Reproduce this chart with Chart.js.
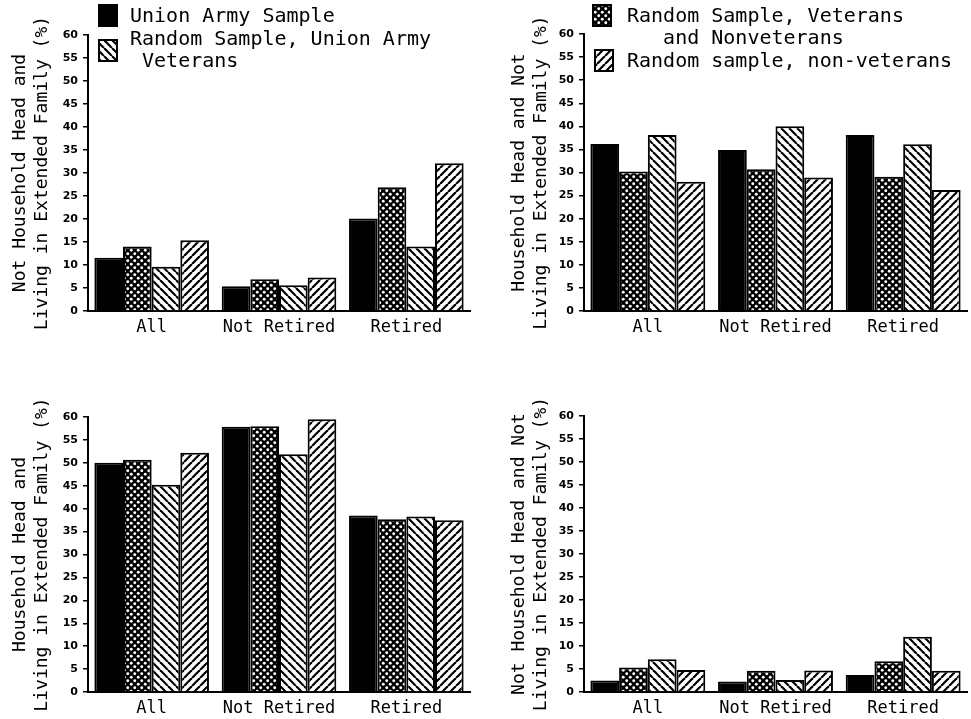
<!DOCTYPE html>
<html>
<head>
<meta charset="utf-8">
<script src="https://cdn.jsdelivr.net/npm/chart.js@4.4.1/dist/chart.umd.min.js"></script>
<style>
  html, body { margin: 0; padding: 0; background: #fff; }
  #wrap { position: relative; width: 971px; height: 719px; }
  canvas { position: absolute; }
</style>
</head>
<body>
<div id="wrap">
  <canvas id="panelA" width="485" height="350" style="left:0;top:0"></canvas>
  <canvas id="panelB" width="486" height="350" style="left:485px;top:0"></canvas>
  <canvas id="panelC" width="485" height="369" style="left:0;top:350px"></canvas>
  <canvas id="panelD" width="486" height="369" style="left:485px;top:350px"></canvas>
</div>
<script>
// Categories on the x axis
const categories = ['All', 'Not Retired', 'Retired'];

// Series names (bar order: solid, cross-hatch, back diagonal, forward diagonal)
const seriesNames = [
  'Union Army Sample',
  'Random Sample, Veterans and Nonveterans',
  'Random Sample, Union Army Veterans',
  'Random sample, non-veterans'
];

// y axis range (%)
const yMin = 0;
const yMax = 60;
const yStep = 5;

// Panel A: not household head, living in extended family
const panelA_unionArmy = [11.6, 5.4, 20.1];
const panelA_randomAll = [14.0, 6.9, 26.9];
const panelA_randomVets = [9.6, 5.6, 14.0];
const panelA_randomNonVets = [15.4, 7.3, 32.1];

// Panel B: household head, not living in extended family
const panelB_unionArmy = [36.2, 34.9, 38.1];
const panelB_randomAll = [30.2, 30.7, 29.1];
const panelB_randomVets = [38.1, 40.0, 36.1];
const panelB_randomNonVets = [28.0, 28.9, 26.2];

// Panel C: household head and living in extended family
const panelC_unionArmy = [50.0, 57.9, 38.5];
const panelC_randomAll = [50.7, 58.0, 37.7];
const panelC_randomVets = [45.2, 51.9, 38.3];
const panelC_randomNonVets = [52.2, 59.5, 37.5];

// Panel D: not household head and not living in extended family
const panelD_unionArmy = [2.5, 2.3, 3.7];
const panelD_randomAll = [5.3, 4.6, 6.7];
const panelD_randomVets = [7.1, 2.6, 12.0];
const panelD_randomNonVets = [4.8, 4.7, 4.6];

const MONO = '"DejaVu Sans Mono", monospace';

// build the hatch fills
function makePattern(kind) {
  const s = kind === 'cross' ? 7 : 8;
  const c = document.createElement('canvas');
  c.width = s; c.height = s;
  const g = c.getContext('2d');
  if (kind === 'cross') {
    g.fillStyle = '#000';
    g.fillRect(0, 0, s, s);
    g.fillStyle = '#fff';
    [[1.75, 1.75], [5.25, 5.25]].forEach(([x, y]) => {
      g.beginPath();
      g.arc(x, y, 1.45, 0, Math.PI * 2);
      g.fill();
    });
  } else {
    g.fillStyle = '#fff';
    g.fillRect(0, 0, s, s);
    g.strokeStyle = '#000';
    g.lineWidth = 2.2;
    for (const x0 of [-s, 0, s]) {
      g.beginPath();
      if (kind === 'back') { g.moveTo(x0, 0); g.lineTo(x0 + s, s); }
      else { g.moveTo(x0, s); g.lineTo(x0 + s, 0); }
      g.stroke();
    }
  }
  return g.createPattern(c, 'repeat');
}

const fills = ['#000', makePattern('cross'), makePattern('back'), makePattern('fwd')];

// legend drawn into the empty space above the top panels
const legendPlugin = {
  id: 'boxLegend',
  afterDraw(chart, args, opts) {
    if (!opts.items) return;
    const ctx = chart.ctx;
    ctx.save();
    ctx.font = '20px ' + MONO;
    ctx.textBaseline = 'middle';
    opts.items.forEach(it => {
      ctx.fillStyle = fills[it.series];
      ctx.fillRect(it.x, it.y, 18, 21);
      ctx.strokeStyle = '#000';
      ctx.lineWidth = 2;
      ctx.strokeRect(it.x, it.y, 18, 21);
      ctx.fillStyle = '#000';
      it.lines.forEach((t, i) => ctx.fillText(t, it.tx, it.ty + i * 22));
    });
    ctx.restore();
  }
};

function makeChart(id, values, title, layout, legendItems) {
  const datasets = values.map((vals, i) => ({
    label: seriesNames[i],
    data: vals,
    backgroundColor: fills[i],
    borderColor: '#000',
    borderWidth: 2,
    borderSkipped: 'bottom',
    categoryPercentage: 0.9,
    barPercentage: 1.0
  }));

  new Chart(document.getElementById(id), {
    type: 'bar',
    data: { labels: categories, datasets: datasets },
    plugins: [legendPlugin],
    options: {
      responsive: false,
      animation: false,
      devicePixelRatio: 1,
      layout: { padding: layout.padding },
      plugins: {
        legend: { display: false },
        tooltip: { enabled: false },
        boxLegend: { items: legendItems }
      },
      scales: {
        x: {
          grid: { display: false, drawTicks: false },
          border: { display: true, color: '#000', width: 2 },
          ticks: {
            color: '#000',
            padding: 6,
            maxRotation: 0,
            font: { family: MONO, size: 17 }
          },
          afterFit: axis => { axis.height = 26; }
        },
        y: {
          min: yMin,
          max: yMax,
          grid: {
            drawOnChartArea: false,
            drawTicks: true,
            tickLength: 5,
            color: '#000',
            lineWidth: 1.5
          },
          border: { display: true, color: '#000', width: 2 },
          ticks: {
            stepSize: yStep,
            color: '#000',
            padding: 5,
            font: { family: 'DejaVu Sans', weight: 'bold', size: 11 }
          },
          title: {
            display: true,
            text: title,
            color: '#000',
            padding: { top: layout.titlePad, bottom: 0 },
            font: { family: MONO, size: 18, lineHeight: 1.2 }
          },
          afterFit: axis => { axis.width = layout.yWidth; }
        }
      }
    }
  });
}

makeChart('panelA',
  [panelA_unionArmy, panelA_randomAll, panelA_randomVets, panelA_randomNonVets],
  ['Not Household Head and', 'Living in Extended Family (%)'],
  { padding: { left: 0, right: 15, top: 35, bottom: 13 }, yWidth: 88, titlePad: 10 },
  [
    { series: 0, x: 99, y: 5, tx: 130, ty: 17, lines: ['Union Army Sample'] },
    { series: 2, x: 99, y: 40, tx: 130, ty: 40, lines: ['Random Sample, Union Army', ' Veterans'] }
  ]);

makeChart('panelB',
  [panelB_unionArmy, panelB_randomAll, panelB_randomVets, panelB_randomNonVets],
  ['Household Head and Not', 'Living in Extended Family (%)'],
  { padding: { left: 0, right: 4, top: 34, bottom: 13 }, yWidth: 99, titlePad: 24 },
  [
    { series: 1, x: 108, y: 5, tx: 142, ty: 17, lines: ['Random Sample, Veterans', '   and Nonveterans'] },
    { series: 3, x: 110, y: 50, tx: 142, ty: 62, lines: ['Random sample, non-veterans'] }
  ]);

makeChart('panelC',
  [panelC_unionArmy, panelC_randomAll, panelC_randomVets, panelC_randomNonVets],
  ['Household Head and', 'Living in Extended Family (%)'],
  { padding: { left: 0, right: 15, top: 67, bottom: 1 }, yWidth: 88, titlePad: 10 },
  null);

makeChart('panelD',
  [panelD_unionArmy, panelD_randomAll, panelD_randomVets, panelD_randomNonVets],
  ['Not Household Head and Not', 'Living in Extended Family (%)'],
  { padding: { left: 0, right: 4, top: 66, bottom: 1 }, yWidth: 99, titlePad: 24 },
  null);
</script>
</body>
</html>
